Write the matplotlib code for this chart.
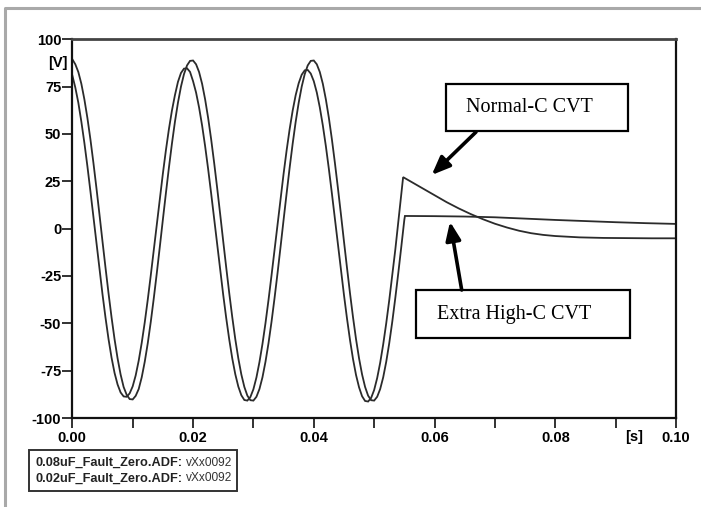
import numpy as np
import matplotlib
matplotlib.use('Agg')
import matplotlib.pyplot as plt
from matplotlib.patches import Rectangle
from matplotlib.lines import Line2D

# ---------------- data ----------------
# sampling grid for the pre-fault part (0 .. 0.0545 s, 0.5 ms steps)
t_pre = np.round(np.arange(110) * 0.0005, 4)

# Normal-C CVT (pre-fault)
normal_pre = [
    81.0, 74.5, 66.5, 56.5, 45.3, 33.0, 19.8, 6.1, -7.8, -21.5,
    -34.6, -47.0, -58.3, -68.1, -76.2, -82.3, -86.5, -88.6, -88.8, -87.0,
    -83.3, -77.5, -69.7, -60.3, -49.5, -37.5, -24.6, -11.2, 2.5, 16.0,
    29.0, 41.3, 52.5, 62.3, 70.5, 77.5, 82.2, 84.5, 84.7, 82.8,
    77.9, 71.9, 64.0, 54.5, 43.6, 31.5, 18.6, 5.2, -8.5, -22.0,
    -35.0, -47.3, -58.6, -68.6, -76.9, -83.4, -88.0, -90.5, -90.8, -88.9,
    -84.8, -78.6, -70.5, -60.9, -49.9, -37.7, -24.7, -11.2, 2.5, 16.0,
    29.0, 41.3, 52.5, 62.3, 70.5, 76.8, 81.3, 83.6, 83.8, 81.9,
    77.9, 71.9, 64.0, 54.5, 43.6, 31.5, 18.6, 5.2, -8.5, -22.0,
    -35.0, -47.4, -58.8, -68.9, -77.3, -83.8, -88.5, -91.0, -91.3, -89.4,
    -85.2, -78.9, -70.8, -61.1, -50.0, -37.8, -24.7, -11.2, 3.5, 18.0,
]
# Normal-C CVT (post-fault)
t_normal_post = [0.0548, 0.056, 0.058, 0.060, 0.062, 0.064, 0.066, 0.068, 0.070,
                 0.072, 0.074, 0.076, 0.078, 0.080, 0.084, 0.088, 0.092, 0.096, 0.100]
normal_post = [27.2, 25.0, 21.3, 17.6, 14.0, 10.7, 7.7, 5.0, 2.6,
               0.6, -1.1, -2.4, -3.3, -3.9, -4.6, -4.9, -5.0, -5.1, -5.1]

# Extra High-C CVT (pre-fault)
extra_pre = [
    89.5, 86.8, 82.7, 76.5, 68.3, 58.5, 47.2, 34.7, 21.4, 7.5,
    -6.7, -20.6, -34.1, -46.8, -58.4, -68.5, -77.0, -83.6, -87.7, -90.0,
    -90.2, -88.3, -84.7, -78.5, -70.3, -60.5, -49.2, -36.7, -23.4, -9.5,
    4.7, 18.6, 32.1, 44.8, 56.4, 66.5, 75.0, 81.6, 86.2, 88.6,
    88.8, 86.8, 82.7, 76.5, 68.3, 58.5, 47.2, 34.7, 21.4, 7.5,
    -6.7, -20.6, -34.1, -46.8, -58.4, -68.5, -77.0, -83.6, -88.2, -90.6,
    -90.8, -88.8, -84.7, -78.5, -70.3, -60.5, -49.2, -36.7, -23.4, -9.5,
    4.7, 18.6, 32.1, 44.8, 56.4, 66.5, 75.0, 81.6, 86.2, 88.6,
    88.8, 86.8, 82.7, 76.5, 68.3, 58.5, 47.2, 34.7, 21.4, 7.5,
    -6.7, -20.6, -34.1, -46.8, -58.4, -68.5, -77.0, -83.6, -88.2, -90.6,
    -90.8, -88.8, -84.7, -78.5, -70.3, -60.5, -49.2, -36.7, -23.4, -9.5,
]
# Extra High-C CVT (post-fault)
t_extra_post = [0.055, 0.0551, 0.06, 0.065, 0.07, 0.075, 0.08, 0.085, 0.09, 0.095, 0.10]
extra_post = [4.7, 6.7, 6.6, 6.4, 6.0, 5.3, 4.6, 4.0, 3.4, 2.9, 2.5]

x_major = [0.00, 0.02, 0.04, 0.06, 0.08, 0.10]
x_labels = ['0.00', '0.02', '0.04', '0.06', '0.08', '0.10']
x_minor = [0.01, 0.03, 0.05, 0.07, 0.09]
y_ticks = [-100, -75, -50, -25, 0, 25, 50, 75, 100]

legend_files = ['0.08uF_Fault_Zero.ADF:', '0.02uF_Fault_Zero.ADF:']
legend_vars = ['vXx0092', 'vXx0092']

# ---------------- figure ----------------
W, H = 701, 507
fig = plt.figure(figsize=(W / 100, H / 100), dpi=100)
fig.patch.set_facecolor('white')

ax = fig.add_axes([72.3 / W, 1 - 418 / H, 603.7 / W, 378.7 / H])

line_color = '#2b2b2b'
ax.plot(list(t_pre) + t_normal_post, normal_pre + normal_post,
        color=line_color, lw=1.3, solid_joinstyle='miter')
ax.plot(list(t_pre) + t_extra_post, extra_pre + extra_post,
        color=line_color, lw=1.3, solid_joinstyle='miter')

ax.set_xlim(0, 0.10)
ax.set_ylim(-100, 100)

sans = 'Liberation Sans'
ax.set_xticks(x_major)
ax.set_xticklabels(x_labels)
ax.set_xticks(x_minor, minor=True)
ax.set_yticks(y_ticks)
ax.set_yticklabels([str(v) for v in y_ticks])
for lab in ax.get_xticklabels() + ax.get_yticklabels():
    lab.set_fontfamily(sans)
    lab.set_fontweight('bold')
    lab.set_fontsize(10.5)
ax.tick_params(axis='both', which='both', direction='out', length=7,
               width=1.3, color='#222222', pad=2)
ax.tick_params(axis='y', pad=1)

for s in ['left', 'bottom', 'right']:
    ax.spines[s].set_linewidth(1.6)
    ax.spines[s].set_color('#111111')
ax.spines['top'].set_linewidth(2.0)
ax.spines['top'].set_color('#444444')

# unit labels
ax.text(-0.0007, 87.5, '[V]', ha='right', va='center', fontfamily=sans,
        fontweight='bold', fontsize=10.5)
ax.text(0.0931, -106.5, '[s]', ha='center', va='top', fontfamily=sans,
        fontweight='bold', fontsize=10.5)

# annotation boxes
serif = 'Liberation Serif'
def px_ax(x, y):
    return ((x - 72.3) / 603.7, (418 - y) / 378.7)

# Normal-C CVT box
x0, y0 = px_ax(446, 131)
x1, y1 = px_ax(628, 84)
ax.add_patch(Rectangle((x0, y0), x1 - x0, y1 - y0, transform=ax.transAxes,
                       fill=True, facecolor='white', edgecolor='black', lw=1.6, zorder=5))
tx, ty = px_ax(466, 108)
ax.text(tx, ty, 'Normal-C CVT', transform=ax.transAxes, ha='left', va='center',
        fontfamily=serif, fontsize=14.5, zorder=6)

# Extra High-C CVT box
x0, y0 = px_ax(416, 338)
x1, y1 = px_ax(630, 290)
ax.add_patch(Rectangle((x0, y0), x1 - x0, y1 - y0, transform=ax.transAxes,
                       fill=True, facecolor='white', edgecolor='black', lw=1.6, zorder=5))
tx, ty = px_ax(437, 314)
ax.text(tx, ty, 'Extra High-C CVT', transform=ax.transAxes, ha='left', va='center',
        fontfamily=serif, fontsize=14.5, zorder=6)

# arrows
arrow_kw = dict(arrowstyle='-|>,head_length=1.1,head_width=0.45', lw=2.6,
                color='black', shrinkA=0, shrinkB=0)
ax.annotate('', xy=px_ax(431.7, 175), xytext=px_ax(476, 132),
            xycoords='axes fraction', textcoords='axes fraction',
            arrowprops=arrow_kw, zorder=6)
ax.annotate('', xy=px_ax(450, 221.7), xytext=px_ax(461.7, 290),
            xycoords='axes fraction', textcoords='axes fraction',
            arrowprops=arrow_kw, zorder=6)

# legend box (bottom-left)
fig.patches.append(Rectangle((29.3 / W, 1 - 490.7 / H), (236.7 - 29.3) / W, (490.7 - 450) / H,
                             transform=fig.transFigure, fill=False,
                             edgecolor='#333333', lw=1.4))
for i, (fname, var) in enumerate(zip(legend_files, legend_vars)):
    yy = 1 - (462.7 + i * 15.6) / H
    fig.text(35 / W, yy, fname, ha='left', va='center', fontfamily=sans,
             fontweight='bold', fontsize=9.2, color='#222222')
    fig.text(186 / W, yy, var, ha='left', va='center', fontfamily=sans,
             fontsize=8.6, color='#333333')

# gray outer frame (left and top edges)
fig.lines.append(Line2D([5 / W, 5 / W, 1.0], [0.0, 1 - 7.5 / H, 1 - 7.5 / H],
                        transform=fig.transFigure, color='#a9a9a9', lw=2.2))

fig.savefig('out.png', dpi=100)
